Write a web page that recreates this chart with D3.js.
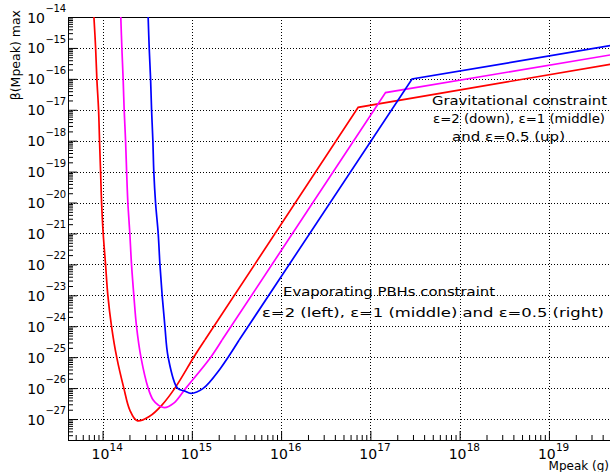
<!DOCTYPE html>
<html>
<head>
<meta charset="utf-8">
<script src="https://cdn.jsdelivr.net/npm/d3@7"></script>
<style>
  body { margin: 0; background: #fff; }
  text { font-family: "DejaVu Sans", sans-serif; fill: #000; }
</style>
</head>
<body>
<svg id="chart" width="610" height="472"></svg>
<script>
// ---------------- DATA ----------------
// series: epsilon = 2 (red), 1 (magenta), 0.5 (blue)
const epsilons = ["2", "1", "0.5"];
const colors = ["#ff0000", "#ff00ff", "#0000ff"];

// evaporating PBHs constraint, curved part (Mpeak in g, beta max)
const dipMass2 = [8.0e13, 8.36e13, 8.63e13, 9.02e13, 9.25e13, 9.5e13, 9.75e13, 1.016e14, 1.08e14, 1.146e14, 1.26e14, 1.44e14, 1.73e14, 2.02e14, 2.44e14, 3.39e14, 4.62e14, 6.46e14, 1.05e15, 1.4e15];
const dipBeta2 = [1e-14, 1e-15, 1e-16, 1e-17, 1e-18, 1e-19, 1e-20, 1e-21, 1e-22, 1e-23, 1e-24, 1e-25, 1e-26, 1.95e-27, 8.8e-28, 1.25e-27, 2.83e-27, 1e-26, 1e-25, 3.58e-25];

const dipMass1 = [1.6e14, 1.645e14, 1.7e14, 1.746e14, 1.81e14, 1.86e14, 1.92e14, 2.02e14, 2.11e14, 2.24e14, 2.4e14, 2.69e14, 3.24e14, 3.69e14, 4.2e14, 4.92e14, 6.28e14, 8.57e14, 1.63e15, 2.18e15];
const dipBeta1 = [1e-14, 1e-15, 1e-16, 1e-17, 1e-18, 1e-19, 1e-20, 1e-21, 1e-22, 1e-23, 1e-24, 1e-25, 1e-26, 4.1e-27, 2.83e-27, 2.34e-27, 3.28e-27, 1e-26, 1e-25, 3.58e-25];

const dipMass05 = [3.24e14, 3.33e14, 3.45e14, 3.54e14, 3.66e14, 3.75e14, 3.92e14, 4.2e14, 4.39e14, 4.65e14, 4.99e14, 5.43e14, 6.9e14, 8.36e14, 9.8e14, 1.34e15, 2.06e15, 3.39e15];
const dipBeta05 = [1e-14, 1e-15, 1e-16, 1e-17, 1e-18, 1e-19, 1e-20, 1e-21, 1e-22, 1e-23, 1e-24, 1e-25, 1e-26, 8.0e-27, 6.76e-27, 9.8e-27, 4.1e-26, 3.58e-25];

// straight part: evaporation line -> kink -> gravitational constraint
const lineMass2 = [1.4e15, 7.3e16, 5e19];
const lineBeta2 = [3.58e-25, 1.2e-17, 3.0e-16];
const lineMass1 = [2.18e15, 1.48e17, 5e19];
const lineBeta1 = [3.58e-25, 3.6e-17, 6.0e-16];
const lineMass05 = [3.39e15, 2.93e17, 5e19];
const lineBeta05 = [3.58e-25, 9.9e-17, 1.2e-15];

// tick labels (decades)
const xDecades = [14, 15, 16, 17, 18, 19];
const yDecades = [-14, -15, -16, -17, -18, -19, -20, -21, -22, -23, -24, -25, -26, -27];

// ---------------- SET-UP ----------------
const svg = d3.select("#chart");
const width = +svg.attr("width");
const height = +svg.attr("height");

const leftX = 68;
const topY = 17;
const bottomY = 440;
const rightX = 615;

const x = d3.scaleLog().domain([4.1e13, 5.5e19]).range([leftX, rightX]);
const y = d3.scaleLog().domain([2.1e-28, 1e-14]).range([bottomY, topY]);

svg.append("rect").attr("width", width).attr("height", height).attr("fill", "#fff");

svg.append("clipPath").attr("id", "clip")
  .append("rect")
    .attr("x", leftX).attr("y", topY)
    .attr("width", rightX - leftX).attr("height", bottomY - topY);

// ---------------- GRID ----------------
const grid = svg.append("g")
  .attr("stroke", "#000")
  .attr("stroke-width", 1)
  .attr("stroke-dasharray", "1,2");

grid.selectAll(".vg")
  .data(xDecades)
  .enter()
  .append("line")
    .attr("x1", d => Math.round(x(Math.pow(10, d))) + 0.5)
    .attr("x2", d => Math.round(x(Math.pow(10, d))) + 0.5)
    .attr("y1", topY)
    .attr("y2", bottomY);

grid.selectAll(".hg")
  .data(yDecades.slice(1))
  .enter()
  .append("line")
    .attr("x1", leftX)
    .attr("x2", width)
    .attr("y1", d => Math.round(y(Math.pow(10, d))) + 0.5)
    .attr("y2", d => Math.round(y(Math.pow(10, d))) + 0.5);

// ---------------- AXES (ROOT style, ticks inside) ----------------
function minorTicks(lo, hi) {
  const out = [];
  for (let e = lo; e <= hi; e++) {
    for (let k = 2; k <= 9; k++) out.push(k * Math.pow(10, e));
  }
  return out;
}

const xMinor = minorTicks(13, 19).filter(v => v > x.domain()[0] && v < x.domain()[1]);
const yMinor = minorTicks(-28, -15).filter(v => v > y.domain()[0] && v < y.domain()[1]);

// x axis
svg.append("g")
  .attr("transform", `translate(0, ${bottomY})`)
  .call(d3.axisBottom(x).tickValues(xDecades.map(d => Math.pow(10, d)))
    .tickSizeInner(-9).tickSizeOuter(0).tickFormat(""))
  .call(g => g.select(".domain").attr("d", `M${leftX},0.5H${width}`));

svg.append("g")
  .attr("transform", `translate(0, ${bottomY})`)
  .call(d3.axisBottom(x).tickValues(xMinor).tickSizeInner(-5).tickSizeOuter(0).tickFormat(""))
  .call(g => g.select(".domain").remove());

// y axis
svg.append("g")
  .attr("transform", `translate(${leftX}, 0)`)
  .call(d3.axisLeft(y).tickValues(yDecades.map(d => Math.pow(10, d)))
    .tickSizeInner(-9).tickSizeOuter(0).tickFormat(""));

svg.append("g")
  .attr("transform", `translate(${leftX}, 0)`)
  .call(d3.axisLeft(y).tickValues(yMinor).tickSizeInner(-5).tickSizeOuter(0).tickFormat(""))
  .call(g => g.select(".domain").remove());

// top frame
svg.append("line")
  .attr("x1", leftX).attr("x2", width)
  .attr("y1", topY + 0.5).attr("y2", topY + 0.5)
  .attr("stroke", "#000");

// ---------------- TICK LABELS ----------------
const xl = svg.append("g");
xDecades.forEach(d => {
  const px = x(Math.pow(10, d));
  xl.append("text").attr("x", px - 11).attr("y", 459)
    .style("font-size", "14px").text("10");
  xl.append("text").attr("x", px + 7).attr("y", 451)
    .style("font-size", "10.5px").text(d);
});

const yl = svg.append("g");
yDecades.forEach(d => {
  const py = y(Math.pow(10, d));
  yl.append("text").attr("x", 45).attr("y", py + 5.5)
    .attr("text-anchor", "end")
    .style("font-size", "14px").text("10");
  yl.append("text").attr("x", 45.5).attr("y", py - 5)
    .style("font-size", "10px")
    .style("letter-spacing", "-0.3px")
    .text("\u2212" + Math.abs(d));
});

// axis titles
svg.append("text")
  .attr("transform", "translate(20, 10) rotate(-90)")
  .attr("text-anchor", "end")
  .style("font-size", "12.5px")
  .text("\u03b2(Mpeak) max");

svg.append("text")
  .attr("x", 609).attr("y", 470)
  .attr("text-anchor", "end")
  .style("font-size", "12px")
  .text("Mpeak (g)");

// ---------------- CURVES ----------------
const dips = [
  d3.zip(dipMass2, dipBeta2),
  d3.zip(dipMass1, dipBeta1),
  d3.zip(dipMass05, dipBeta05)
];
const lines = [
  d3.zip(lineMass2, lineBeta2),
  d3.zip(lineMass1, lineBeta1),
  d3.zip(lineMass05, lineBeta05)
];

const smooth = d3.line().x(d => x(d[0])).y(d => y(d[1])).curve(d3.curveCatmullRom.alpha(0.5));
const straight = d3.line().x(d => x(d[0])).y(d => y(d[1]));

const curves = svg.append("g").attr("clip-path", "url(#clip)");

epsilons.forEach((e, i) => {
  curves.append("path")
    .attr("d", smooth(dips[i]))
    .attr("fill", "none")
    .attr("stroke", colors[i])
    .attr("stroke-width", 1.7);
  curves.append("path")
    .attr("d", straight(lines[i]))
    .attr("fill", "none")
    .attr("stroke", colors[i])
    .attr("stroke-width", 1.7);
});

// ---------------- ANNOTATIONS ----------------
function note(txt, px, py, len) {
  svg.append("text")
    .attr("x", px).attr("y", py)
    .attr("textLength", len)
    .attr("lengthAdjust", "spacingAndGlyphs")
    .style("font-size", "12.5px")
    .text(txt);
}

note("Gravitational constraint", 432, 105, 175);
note("\u03b5=2 (down), \u03b5=1 (middle)", 433, 123, 172);
note("and \u03b5=0.5 (up)", 452, 141, 113);

note("Evaporating PBHs constraint", 283, 296, 212);
note("\u03b5=2 (left), \u03b5=1 (middle) and \u03b5=0.5 (right)", 262, 317, 342);
</script>
</body>
</html>
